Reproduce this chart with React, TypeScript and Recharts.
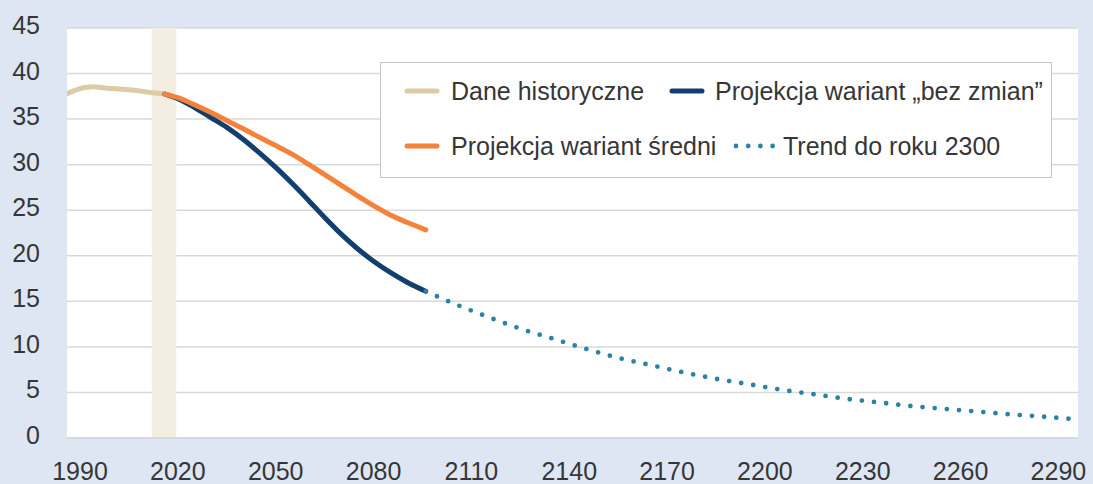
import React from 'react';
import { LineChart, Line, XAxis, YAxis, CartesianGrid, ReferenceArea, Legend } from 'recharts';

// Dane historyczne
const historyYears = [1986, 1988, 1990, 1992, 1994, 1996, 1998, 2000, 2002, 2004, 2006, 2008, 2010, 2012, 2014, 2016];
const historyValues = [37.8, 38.1, 38.35, 38.5, 38.55, 38.5, 38.4, 38.35, 38.3, 38.25, 38.2, 38.1, 38.0, 37.9, 37.85, 37.75];

// Projekcje
const projYears = [2016, 2020, 2025, 2030, 2035, 2040, 2045, 2050, 2055, 2060, 2065, 2070, 2075, 2080, 2085, 2090, 2096];
const mediumValues = [37.75, 37.35, 36.6, 35.75, 34.85, 33.95, 33.0, 32.1, 31.15, 30.05, 28.9, 27.75, 26.6, 25.5, 24.5, 23.7, 22.85];
const noChangeValues = [37.75, 37.25, 36.3, 35.2, 34.1, 32.8, 31.3, 29.7, 27.95, 26.1, 24.2, 22.4, 20.8, 19.4, 18.2, 17.15, 16.1];

// Trend do roku 2300
const trendYears = [2096, 2105, 2115, 2125, 2135, 2145, 2155, 2165, 2175, 2185, 2195, 2205, 2215, 2225, 2235, 2245, 2255, 2265, 2275, 2285, 2294];
const trendValues = [16.1, 14.7, 13.3, 12.0, 10.9, 9.8, 8.8, 8.0, 7.2, 6.5, 5.9, 5.3, 4.8, 4.3, 3.9, 3.5, 3.2, 2.9, 2.6, 2.35, 2.1];

const xTicks = [1990, 2020, 2050, 2080, 2110, 2140, 2170, 2200, 2230, 2260, 2290];
const yTicks = [0, 5, 10, 15, 20, 25, 30, 35, 40, 45];
const bandYears = [2012, 2019.5];

const toRows = (years: number[], values: number[]) => years.map((year, i) => ({ year, v: values[i] }));

const FONT = '"Liberation Sans", Arial, Helvetica, sans-serif';
const TEXT = '#363636';

const COLORS = {
  history: '#dccba4',
  noChange: '#133f6e',
  medium: '#f5823a',
  trend: '#2a83a6',
  band: '#f4ede1',
  grid: '#d9d9d9',
  bg: '#dfe6f3',
};

const YTick = (props: any) => {
  const { x, y, payload } = props;
  return (
    <text x={x} y={y} dy={-3} textAnchor="end" dominantBaseline="central" fontSize={25} fontFamily={FONT} fill={TEXT}>
      {payload.value}
    </text>
  );
};

const XTick = (props: any) => {
  const { x, y, payload } = props;
  return (
    <text x={x} y={y} dy={42} textAnchor="middle" fontSize={25} fontFamily={FONT} fill={TEXT}>
      {payload.value}
    </text>
  );
};

const Swatch = ({ color, dotted }: { color: string; dotted?: boolean }) =>
  dotted ? (
    <svg width={44} height={10} style={{ display: 'block' }}>
      <line x1={3} y1={5} x2={41} y2={5} stroke={color} strokeWidth={4.8} strokeLinecap="round" strokeDasharray="0 12.2" />
    </svg>
  ) : (
    <svg width={36} height={10} style={{ display: 'block' }}>
      <line x1={3} y1={5} x2={33} y2={5} stroke={color} strokeWidth={5} strokeLinecap="round" />
    </svg>
  );

const LegendBox = () => {
  const item = (left: number, top: number, textLeft: number, label: string, color: string, dotted?: boolean) => (
    <>
      <div style={{ position: 'absolute', left, top: top - 5 }}>
        <Swatch color={color} dotted={dotted} />
      </div>
      <div style={{ position: 'absolute', left: textLeft, top: top - 15, lineHeight: '30px', whiteSpace: 'nowrap' }}>{label}</div>
    </>
  );
  return (
    <div
      style={{
        width: 672,
        height: 116,
        boxSizing: 'border-box',
        border: '1px solid #c6c6c6',
        background: '#fff',
        position: 'relative',
        fontFamily: FONT,
        fontSize: 25,
        color: TEXT,
      }}
    >
      {item(23, 28, 70, 'Dane historyczne', COLORS.history)}
      {item(288, 28, 334, 'Projekcja wariant „bez zmian”', COLORS.noChange)}
      {item(23, 83, 70, 'Projekcja wariant średni', COLORS.medium)}
      {item(352, 83, 402, 'Trend do roku 2300', COLORS.trend, true)}
    </div>
  );
};

export default function App() {
  return (
    <div style={{ position: 'absolute', left: 0, top: 0, width: 1093, height: 484, background: COLORS.bg }}>
      <LineChart width={1093} height={484} margin={{ top: 28, right: 15, left: 0, bottom: 0 }}>
        <CartesianGrid vertical={false} stroke={COLORS.grid} strokeWidth={1.5} fill="#ffffff" fillOpacity={1} />
        <XAxis
          dataKey="year"
          type="number"
          domain={[1986, 2296]}
          ticks={xTicks}
          interval={0}
          height={46}
          tickSize={0}
          tickMargin={0}
          tick={<XTick />}
          axisLine={{ stroke: '#d3d9e3', strokeWidth: 2 }}
          tickLine={false}
          allowDataOverflow
        />
        <YAxis
          type="number"
          domain={[0, 45]}
          ticks={yTicks}
          interval={0}
          width={67}
          tickSize={0}
          tickMargin={27}
          tick={<YTick />}
          axisLine={false}
          tickLine={false}
        />
        <ReferenceArea x1={bandYears[0]} x2={bandYears[1]} y1={0} y2={45} fill={COLORS.band} fillOpacity={1} stroke="none" />
        <Line
          data={toRows(historyYears, historyValues)}
          dataKey="v"
          name="Dane historyczne"
          type="monotone"
          stroke={COLORS.history}
          strokeWidth={5}
          strokeLinecap="round"
          dot={false}
          activeDot={false}
          isAnimationActive={false}
        />
        <Line
          data={toRows(projYears, noChangeValues)}
          dataKey="v"
          name="Projekcja wariant „bez zmian”"
          type="monotone"
          stroke={COLORS.noChange}
          strokeWidth={5}
          strokeLinecap="round"
          dot={false}
          activeDot={false}
          isAnimationActive={false}
        />
        <Line
          data={toRows(projYears, mediumValues)}
          dataKey="v"
          name="Projekcja wariant średni"
          type="monotone"
          stroke={COLORS.medium}
          strokeWidth={5}
          strokeLinecap="round"
          dot={false}
          activeDot={false}
          isAnimationActive={false}
        />
        <Line
          data={toRows(trendYears, trendValues)}
          dataKey="v"
          name="Trend do roku 2300"
          type="monotone"
          stroke={COLORS.trend}
          strokeWidth={4.8}
          strokeLinecap="round"
          strokeDasharray="0 12.2"
          dot={false}
          activeDot={false}
          isAnimationActive={false}
        />
        <Legend
          layout="horizontal"
          verticalAlign="middle"
          align="center"
          wrapperStyle={{ top: 62, left: 380, width: 672, height: 116 }}
          content={() => <LegendBox />}
        />
      </LineChart>
    </div>
  );
}
